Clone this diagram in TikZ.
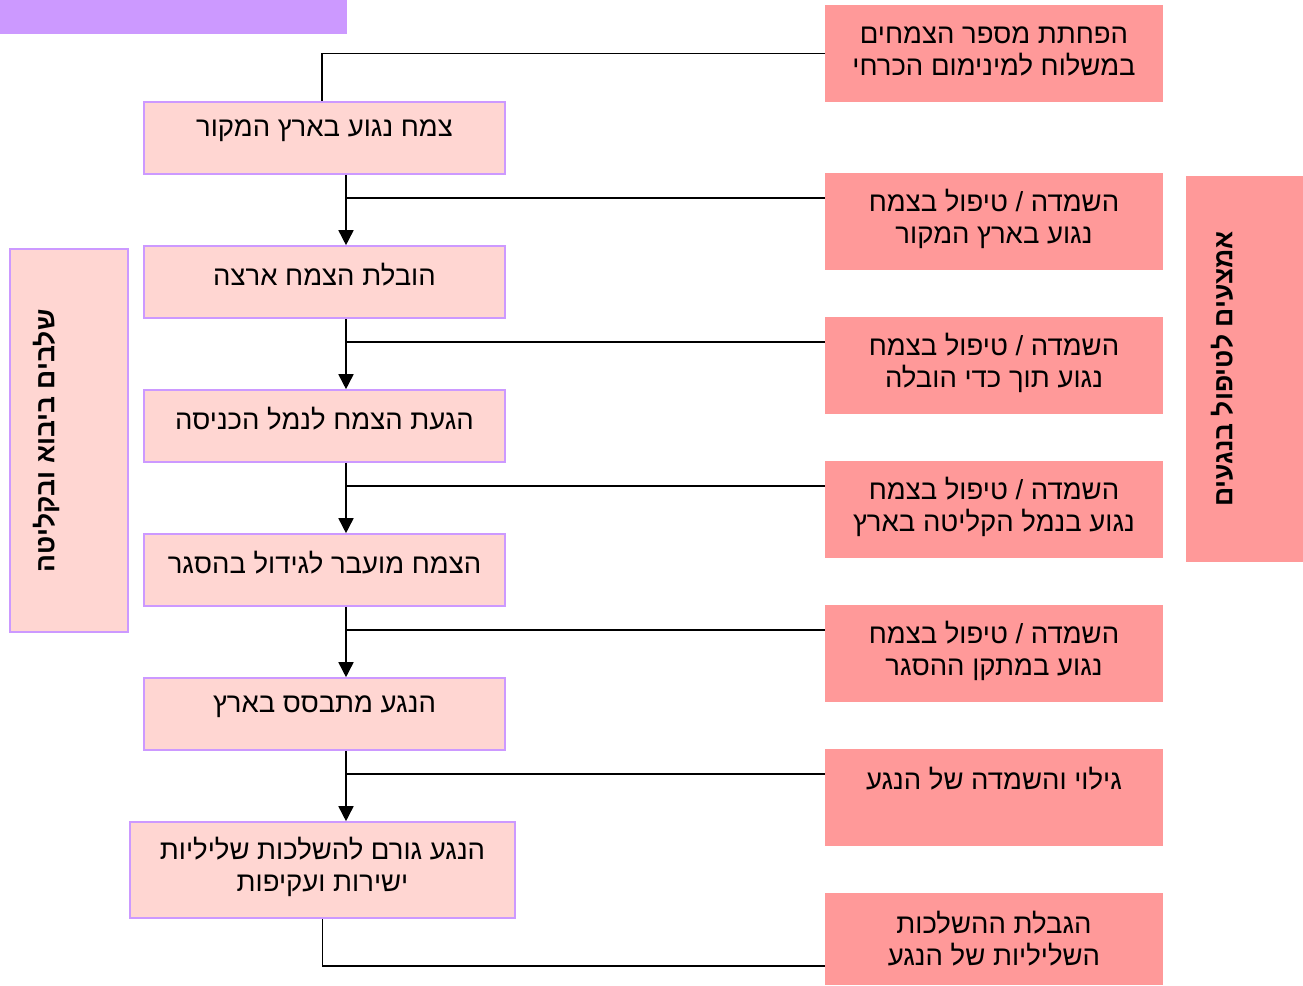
\documentclass[tikz,border=0pt]{standalone}
\usepackage{fontspec}
\usetikzlibrary{arrows.meta,calc}
\TeXXeTstate=1
\newfontfamily\hebfont[Script=Hebrew]{Liberation Sans}
\definecolor{lpink}{HTML}{FFD6D2}
\definecolor{lpurple}{HTML}{CC99FF}
\definecolor{rpink}{HTML}{FF9999}
\begin{document}
\begin{tikzpicture}[x=1pt,y=-1pt,
  lbox/.style={draw=lpurple,fill=lpink,line width=1.6pt,minimum width=361pt,minimum height=72pt,inner sep=0pt},
  rbox/.style={fill=rpink,minimum width=338pt,minimum height=97pt,inner sep=0pt},
  txt/.style={font=\hebfont\fontsize{27.5}{32}\selectfont,align=center,inner sep=0pt,yshift=-3pt},
  btxt/.style={font=\hebfont\bfseries\fontsize{26.5}{32}\selectfont,align=center,inner sep=0pt,rotate=90},
  conn/.style={line width=1.6pt},
  arr/.style={line width=1.6pt,-{Triangle[length=15pt,width=15pt]}}]
\useasboundingbox (0,0) rectangle (1303,985);
% top purple bar
\node[fill=lpurple,minimum width=347pt,minimum height=34pt,inner sep=0pt,anchor=north west] (top) at (0,0) {};
% left flow boxes
\node[lbox] (b1) at (324.5,138) {};
\node[lbox] (b2) at (324.5,282) {};
\node[lbox] (b3) at (324.5,426) {};
\node[lbox] (b4) at (324.5,570) {};
\node[lbox] (b5) at (324.5,714) {};
\node[lbox,minimum width=385pt,minimum height=96pt] (b6) at (322.5,870) {};
\node[txt] (t1) at (324.5,128) {\beginR צמח נגוע בארץ המקור\endR};
\node[txt] (t2) at (324.5,272) {\beginR הובלת הצמח ארצה\endR};
\node[txt] (t3) at (324.5,416) {\beginR הגעת הצמח לנמל הכניסה\endR};
\node[txt] (t4) at (324.5,560) {\beginR הצמח מועבר לגידול בהסגר\endR};
\node[txt] (t5) at (324.5,704) {\beginR הנגע מתבסס בארץ\endR};
\node[txt] (t6) at (322.5,864) {\beginR הנגע גורם להשלכות שליליות\endR\\\beginR ישירות ועקיפות\endR};
% right boxes
\node[rbox] (r0) at (994,53.5) {};
\node[rbox] (r1) at (994,221.5) {};
\node[rbox] (r2) at (994,365.5) {};
\node[rbox] (r3) at (994,509.5) {};
\node[rbox] (r4) at (994,653.5) {};
\node[rbox] (r5) at (994,797.5) {};
\node[rbox,minimum height=92pt] (r6) at (994,939) {};
\node[txt] (s0) at (994,48) {\beginR הפחתת מספר הצמחים\endR\\\beginR במשלוח למינימום הכרחי\endR};
\node[txt] (s1) at (994,216) {\beginR השמדה / טיפול בצמח\endR\\\beginR נגוע בארץ המקור\endR};
\node[txt] (s2) at (994,360) {\beginR השמדה / טיפול בצמח\endR\\\beginR נגוע תוך כדי הובלה\endR};
\node[txt] (s3) at (994,504) {\beginR השמדה / טיפול בצמח\endR\\\beginR נגוע בנמל הקליטה בארץ\endR};
\node[txt] (s4) at (994,648) {\beginR השמדה / טיפול בצמח\endR\\\beginR נגוע במתקן ההסגר\endR};
\node[txt] (s5) at (994,776) {\beginR גילוי והשמדה של הנגע\endR};
\node[txt] (s6) at (994,936) {\beginR הגבלת ההשלכות\endR\\\beginR השליליות של הנגע\endR};
% side boxes
\node[draw=lpurple,fill=lpink,line width=1.6pt,minimum width=118pt,minimum height=383pt,inner sep=0pt] (side) at (69,440.5) {};
\node[btxt] (sidet) at (46,441) {\beginR שלבים ביבוא ובקליטה\endR};
\node[fill=rpink,minimum width=117pt,minimum height=386pt,inner sep=0pt] (rside) at (1244.5,369) {};
\node[btxt] (rsidet) at (1222,369) {\beginR אמצעים לטיפול בנגעים\endR};
% connectors
\draw[conn] (r0.west) -| ([xshift=-2.5pt]b1.north);
\foreach \a/\b/\r in {b1/b2/r1,b2/b3/r2,b3/b4/r3,b4/b5/r4,b5/b6/r5}{
  \draw[arr] ([xshift=21.5pt]\a.south) -- ([xshift=21.5pt]\a.south |- \b.north);
  \draw[conn] ([xshift=21.5pt]\a.south |- {$(\r.north west)+(0,25)$}) -- ($(\r.north west)+(0,25)$);
}
\draw[conn] (b6.south) |- ($(r6.south west)+(0,-19)$);
\end{tikzpicture}
\end{document}
